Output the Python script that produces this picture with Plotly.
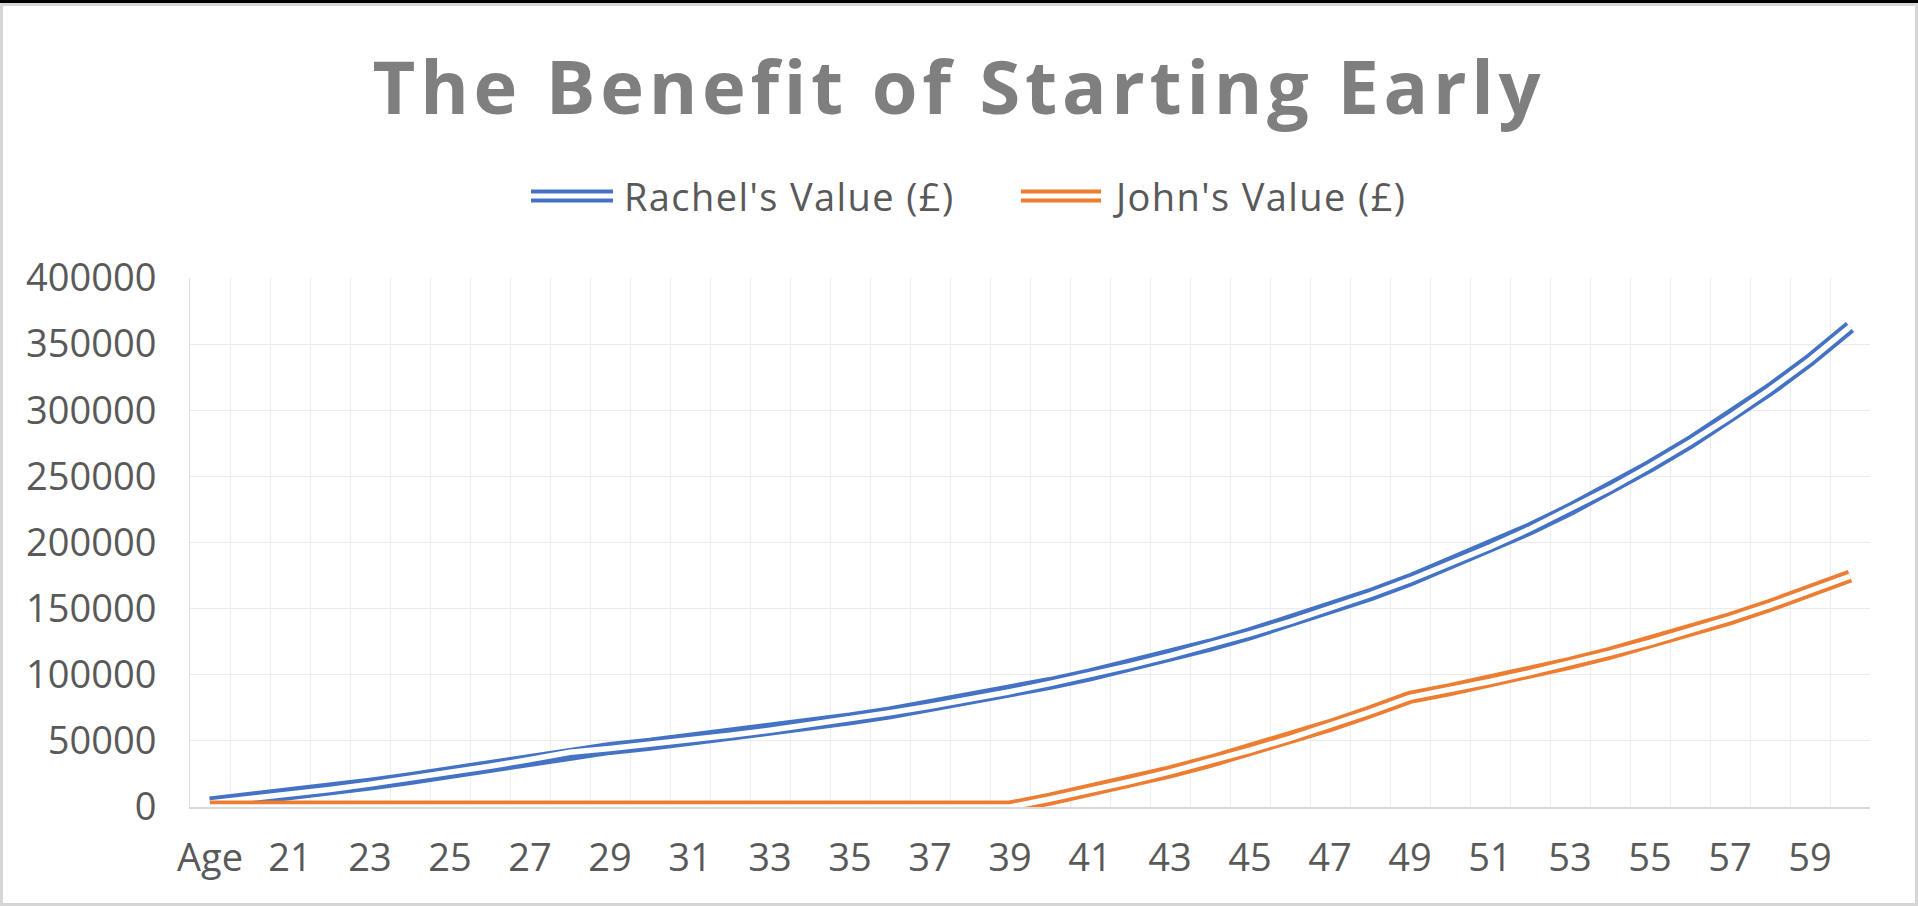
import plotly.graph_objects as go

# ---------------- data ----------------
categories = ["Age", "20", "21", "22", "23", "24", "25", "26", "27", "28", "29",
              "30", "31", "32", "33", "34", "35", "36", "37", "38", "39",
              "40", "41", "42", "43", "44", "45", "46", "47", "48", "49",
              "50", "51", "52", "53", "54", "55", "56", "57", "58", "59", "60"]

rachel_values = [3000, 6200, 9600, 13300, 17300, 21500, 26000, 30800, 35900, 41400,
                 44300, 47400, 50800, 54300, 58100, 62200, 66600, 71200, 76200, 81500,
                 87200, 93400, 99900, 106900, 114400, 122400, 131000, 140100, 150000, 160500,
                 171700, 183700, 196600, 210300, 225000, 240800, 257700, 275700, 295000, 315700,
                 338000, 363000]

john_values = [0, 0, 0, 0, 0, 0, 0, 0, 0, 0,
               0, 0, 0, 0, 0, 0, 0, 0, 0, 0,
               0, 6000, 12400, 19300, 26600, 34500, 42900, 51900, 61600, 71900,
               82900, 88700, 94900, 101600, 108700, 116300, 124400, 133100, 142400, 152400,
               163100, 174500]

series_names = ["Rachel's Value (£)", "John's Value (£)"]
series_colors = ["#4472C4", "#ED7D31"]
chart_title = "The Benefit of Starting Early"

# ---------------- layout constants ----------------
W, H = 1918, 906
PL, PR, PT, PB = 190, 1870, 278, 807  # plot area in pixels
FONT = "Open Sans, Liberation Sans, sans-serif"
TXT = "#595959"
OUTER_W, INNER_W = 13, 5.5


def px_x(px):
    return (px - PL) / (PR - PL)


def px_y(py):
    return (PB - py) / (PB - PT)


x_pos = list(range(len(categories)))
tick_pos = x_pos[::2]
tick_text = categories[::2]

fig = go.Figure()
for vals, name, col in [(rachel_values, series_names[0], series_colors[0]),
                        (john_values, series_names[1], series_colors[1])]:
    fig.add_trace(go.Scatter(x=x_pos, y=vals, mode="lines", name=name,
                             line=dict(color=col, width=OUTER_W), showlegend=False,
                             hovertemplate="%{y}<extra>" + name + "</extra>"))
    fig.add_trace(go.Scatter(x=x_pos, y=vals, mode="lines", name=name,
                             line=dict(color="white", width=INNER_W), showlegend=False,
                             hoverinfo="skip"))

shapes = []
annotations = []
# custom double-line legend
legend_items = [(531, 613, 622), (1021, 1101, 1110)]
LEG_Y = 196
for (x0, x1, xt), name, col in zip(legend_items, series_names, series_colors):
    shapes.append(dict(type="line", xref="paper", yref="paper",
                       x0=px_x(x0), x1=px_x(x1), y0=px_y(LEG_Y), y1=px_y(LEG_Y),
                       line=dict(color=col, width=13)))
    shapes.append(dict(type="line", xref="paper", yref="paper",
                       x0=px_x(x0 - 1), x1=px_x(x1 + 1), y0=px_y(LEG_Y), y1=px_y(LEG_Y),
                       line=dict(color="white", width=5)))
    annotations.append(dict(text='<span style="letter-spacing:1.4px">' + name + '</span>',
                            xref="paper", yref="paper", x=px_x(xt), y=px_y(LEG_Y),
                            xanchor="left", yanchor="middle", showarrow=False,
                            font=dict(family=FONT, size=38, color=TXT)))

# chart-area border
shapes.append(dict(type="rect", xref="paper", yref="paper",
                   x0=px_x(1.5), x1=px_x(1916.5), y0=px_y(904.5), y1=px_y(4.5),
                   line=dict(color="#D6D6D6", width=3), layer="below"))
shapes.append(dict(type="rect", xref="paper", yref="paper",
                   x0=px_x(0), x1=px_x(W), y0=px_y(3), y1=px_y(0),
                   line=dict(width=0), fillcolor="#000000"))

fig.update_layout(
    width=W, height=H,
    margin=dict(l=PL, r=W - PR, t=PT, b=H - PB, pad=0),
    paper_bgcolor="white", plot_bgcolor="white",
    title=dict(text='<span style="letter-spacing:4.7px">' + chart_title + '</span>',
               x=0.5, xref="container", xanchor="center",
               y=1 - 88 / H, yref="container", yanchor="middle",
               font=dict(family=FONT, size=74, color="#7F7F7F", weight=700)),
    showlegend=False,
    shapes=shapes,
    annotations=annotations,
    xaxis=dict(range=[-0.5, len(categories) - 0.5], tickmode="array",
               tickvals=tick_pos, ticktext=tick_text, showgrid=False, zeroline=False,
               showline=True, linecolor="#D9D9D9", linewidth=1.5, ticks="",
               ticklabelstandoff=17,
               tickfont=dict(family=FONT, size=38, color=TXT),
               minor=dict(tickmode="linear", tick0=-0.5, dtick=1, showgrid=True,
                          gridcolor="#EBEBEB", gridwidth=1.2, ticks="")),
    yaxis=dict(range=[0, 400000], tickmode="linear", tick0=0, dtick=50000,
               tickformat="d", showgrid=True, gridcolor="#EBEBEB", gridwidth=1.2,
               zeroline=False, showline=True, linecolor="#DDDDDD", linewidth=1,
               ticks="", ticklabelstandoff=25,
               tickfont=dict(family=FONT, size=38, color=TXT)),
)

fig.write_html("out.html", config={"displayModeBar": False},
               post_script="document.body.style.margin='0';")
